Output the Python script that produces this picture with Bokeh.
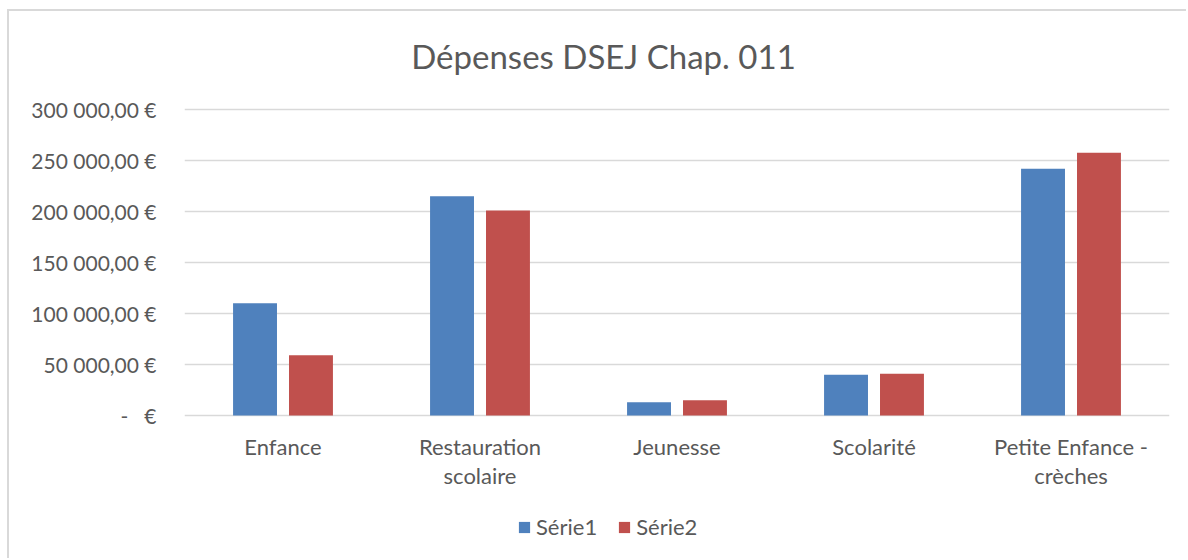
from bokeh.plotting import figure
from bokeh.models import (ColumnDataSource, FactorRange, Range1d, FixedTicker,
                          Legend, LegendItem, Label)
from bokeh.core.properties import value
from bokeh.transform import dodge
from bokeh.embed import file_html
from bokeh.resources import INLINE

categories = ["Enfance", "Restauration scolaire", "Jeunesse", "Scolarité",
              "Petite Enfance - crèches"]
label_line1 = ["Enfance", "Restauration", "Jeunesse", "Scolarité", "Petite Enfance -"]
label_line2 = ["", "scolaire", "", "", "crèches"]
serie1 = [110000, 215000, 13000, 40000, 242000]
serie2 = [59000, 201000, 15000, 41000, 257500]
series_names = ["Série1", "Série2"]
y_ticks = [0, 50000, 100000, 150000, 200000, 250000, 300000]
y_tick_labels = ["-\u00a0\u00a0\u00a0€", "50 000,00 €", "100 000,00 €", "150 000,00 €",
                 "200 000,00 €", "250 000,00 €", "300 000,00 €"]
title_text = "Dépenses DSEJ Chap. 011"

FONT = "Lato"
TXT = "#595959"
BLUE = "#4F81BD"
RED = "#C0504D"
GRID = "#D9D9D9"

# pixel geometry of the plot area (canvas pixels)
FRAME_LEFT = 175
TOP_Y = 98       # canvas y of the 300 000 line
ZERO_Y = 404     # canvas y of the zero line
HEIGHT = 549
WIDTH = 1179
Y_MAX = 300000
px_per_unit = (ZERO_Y - TOP_Y) / Y_MAX
y_bottom = -(HEIGHT - ZERO_Y) / px_per_unit   # room below zero for labels & legend
y_top = Y_MAX + TOP_Y / px_per_unit            # room above for the title

source = ColumnDataSource(dict(cat=categories, s1=serie1, s2=serie2,
                               l1=label_line1, l2=label_line2,
                               zero=[0] * len(categories)))

p = figure(width=WIDTH, height=HEIGHT, output_backend="svg", toolbar_location=None,
           x_range=FactorRange(factors=categories, range_padding=0),
           y_range=Range1d(y_bottom, y_top), x_axis_location=None,
           min_border_left=FRAME_LEFT, min_border_right=19, min_border_top=0,
           min_border_bottom=0)
p.outline_line_color = None
p.border_fill_color = "white"
p.background_fill_color = "white"
p.styles = {"margin-left": "7px", "margin-top": "9px",
            "border-left": "2px solid #D9D9D9", "border-top": "2px solid #D9D9D9"}

r1 = p.vbar(x=dodge("cat", -0.142, range=p.x_range), top="s1", width=0.223,
            source=source, fill_color=BLUE, line_color=None)
r2 = p.vbar(x=dodge("cat", 0.142, range=p.x_range), top="s2", width=0.223,
            source=source, fill_color=RED, line_color=None)

# category labels (two lines) hung below the zero line
p.text(x="cat", y="zero", text="l1", source=source, y_offset=31,
       text_align="center", text_baseline="middle", text_font=value(FONT),
       text_font_size="22px", text_color=TXT)
p.text(x="cat", y="zero", text="l2", source=source, y_offset=60,
       text_align="center", text_baseline="middle", text_font=value(FONT),
       text_font_size="22px", text_color=TXT)

# chart title, centred on the whole chart
p.add_layout(Label(x=594 - FRAME_LEFT, y=HEIGHT - 44, x_units="screen", y_units="screen",
                   text=title_text, text_align="center", text_baseline="middle",
                   text_font=FONT, text_font_size="33px", text_color=TXT))

p.yaxis.ticker = FixedTicker(ticks=y_ticks)
p.yaxis.major_label_overrides = {t: l for t, l in zip(y_ticks, y_tick_labels)}
p.yaxis.axis_line_color = None
p.yaxis.major_tick_line_color = None
p.yaxis.minor_tick_line_color = None
p.yaxis.major_label_standoff = 22
p.yaxis.major_label_text_font = FONT
p.yaxis.major_label_text_font_size = "21px"
p.yaxis.major_label_text_color = TXT

p.xgrid.grid_line_color = None
p.ygrid.grid_line_color = GRID
p.ygrid.grid_line_width = 1.5

legend = Legend(items=[LegendItem(label=series_names[0], renderers=[r1]),
                       LegendItem(label=series_names[1], renderers=[r2])],
                location=(333, 20), orientation="horizontal",
                padding=0, margin=0, spacing=20, label_standoff=5,
                glyph_width=14, glyph_height=14,
                border_line_color=None, background_fill_alpha=0,
                label_text_font=FONT, label_text_font_size="22px",
                label_text_color=TXT)
p.add_layout(legend, "center")

open("out.html", "w").write(file_html(p, INLINE))
